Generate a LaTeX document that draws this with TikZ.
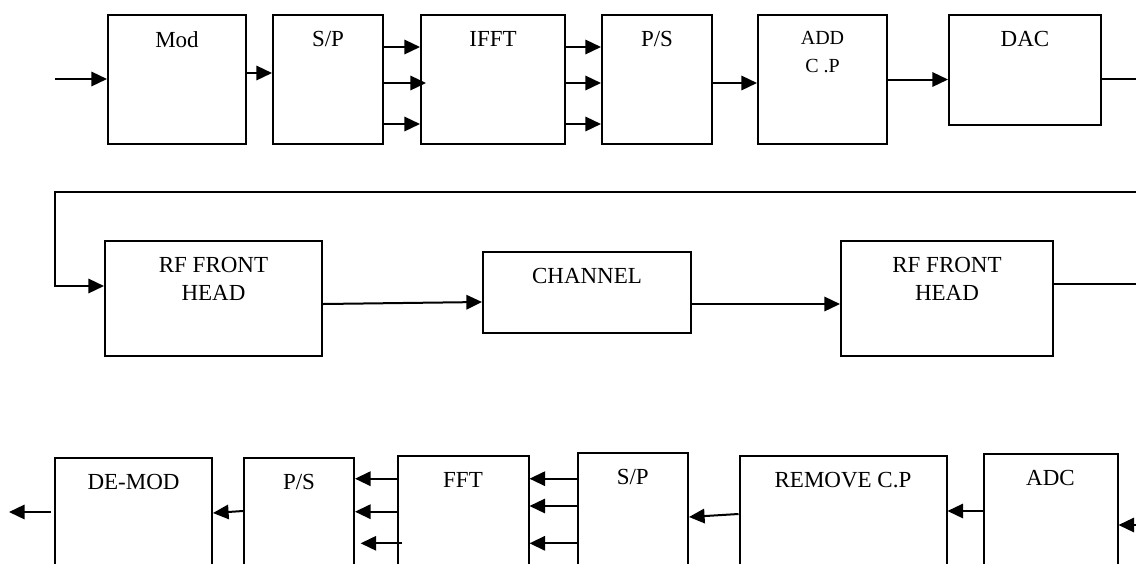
\documentclass[tikz,border=0pt]{standalone}
\usepackage{fontspec}
\setmainfont{Liberation Serif}
\usepackage{tikz}
\usetikzlibrary{arrows.meta, calc, positioning}

\begin{document}
\begin{tikzpicture}[x=0.5pt, y=-0.5pt, >={Triangle[length=7.8pt, width=7.2pt]},
  blk/.style 2 args={draw, line width=1pt, inner sep=0pt,
    minimum width=#1*0.5pt, minimum height=#2*0.5pt},
  lbl/.style={anchor=north, inner sep=0pt, yshift=-8.6pt, align=center,
    font=\fontsize{11.5}{14}\selectfont},
  arr/.style={->, line width=1pt}]
  \useasboundingbox (0,0) rectangle (1136,563);
  \clip (0,0) rectangle (1136,563);
  % sender
  \node[blk={138}{129}, label={[lbl]north:Mod}] (mod) at (177,79.5) {};
  \node[blk={110}{129}, label={[lbl]north:S/P}] (sp) at (328,79.5) {};
  \node[blk={144}{129}, label={[lbl]north:IFFT}] (ifft) at (493,79.5) {};
  \node[blk={110}{129}, label={[lbl]north:P/S}] (ps) at (657,79.5) {};
  \node[blk={129}{129}, label={[lbl, font=\fontsize{10}{14}\selectfont]north:{ADD\\C .P}}] (addcp) at (822.5,79.5) {};
  \node[blk={152}{110}, label={[lbl]north:DAC}] (dac) at (1025,70) {};
  \coordinate (src) at (55,79);
  \draw[arr] (src) -- (mod.west |- src);
  \draw[arr] (mod.east |- 0,73) -- (sp.west |- 0,73);
  \foreach \y in {47,124}
    \draw[arr] (sp.east |- 0,\y) -- (ifft.west |- 0,\y);
  \draw[arr, shorten >=-3pt] (sp.east |- 0,83) -- (ifft.west |- 0,83);
  \foreach \y in {47,83,124}
    \draw[arr] (ifft.east |- 0,\y) -- (ps.west |- 0,\y);
  \draw[arr] (ps.east |- 0,83) -- (addcp.west |- 0,83);
  \draw[arr] (addcp.east) -- (addcp.east -| dac.west);
  % kanal
  \node[blk={217}{115}, label={[lbl]north:{RF FRONT\\HEAD}}] (rfa) at (213.5,298.5) {};
  \node[blk={208}{81}, label={[lbl]north:CHANNEL}] (chan) at (587,292.5) {};
  \node[blk={212}{115}, label={[lbl]north:{RF FRONT\\HEAD}}] (rfb) at (947,298.5) {};
  \draw[arr] (dac.east |- 0,79) -- (1160,79) -- (1160,192) -- (55,192)
    |- ([yshift=6.25pt]rfa.west);
  \draw[arr] ([yshift=-2.75pt]rfa.east) -- (chan.west |- 0,302);
  \draw[arr] (chan.east |- 0,304) -- (rfb.west |- 0,304);
  % modtager
  \node[blk={157}{162}, label={[lbl]north:DE-MOD}] (demod) at (133.5,539) {};
  \node[blk={110}{162}, label={[lbl]north:P/S}] (ps2) at (299,539) {};
  \node[blk={131}{164}, label={[lbl]north:FFT}] (fft) at (463,538) {};
  \node[blk={110.5}{167}, label={[lbl]north:S/P}] (sp2) at (632.75,536.5) {};
  \node[blk={207}{164}, label={[lbl]north:REMOVE C.P}] (rmcp) at (843,538) {};
  \node[blk={134}{166}, label={[lbl]north:ADC}] (adc) at (1050.5,537) {};
  \draw[arr] (rfb.east |- 0,284) -- (1160,284) |- (adc.east |- 0,525);
  \draw[arr] (adc.west |- 0,511) -- (rmcp.east |- 0,511);
  \draw[arr] (rmcp.west |- 0,514) -- (sp2.east |- 0,517);
  \foreach \y in {478.7,506,543.3}
    \draw[arr] (sp2.west |- 0,\y) -- (fft.east |- 0,\y);
  \foreach \y in {478.7,511.7}
    \draw[arr] (fft.west |- 0,\y) -- (ps2.east |- 0,\y);
  \draw[arr] ([xshift=2.8pt]fft.west |- 0,543.3) -- ([xshift=2.8pt]ps2.east |- 0,543.3);
  \draw[arr] (ps2.west |- 0,511) -- (demod.east |- 0,513);
  \coordinate (sink) at (9,512);
  \draw[arr] ([xshift=-1.5pt]demod.west |- sink) -- (sink);
\end{tikzpicture}
\end{document}
